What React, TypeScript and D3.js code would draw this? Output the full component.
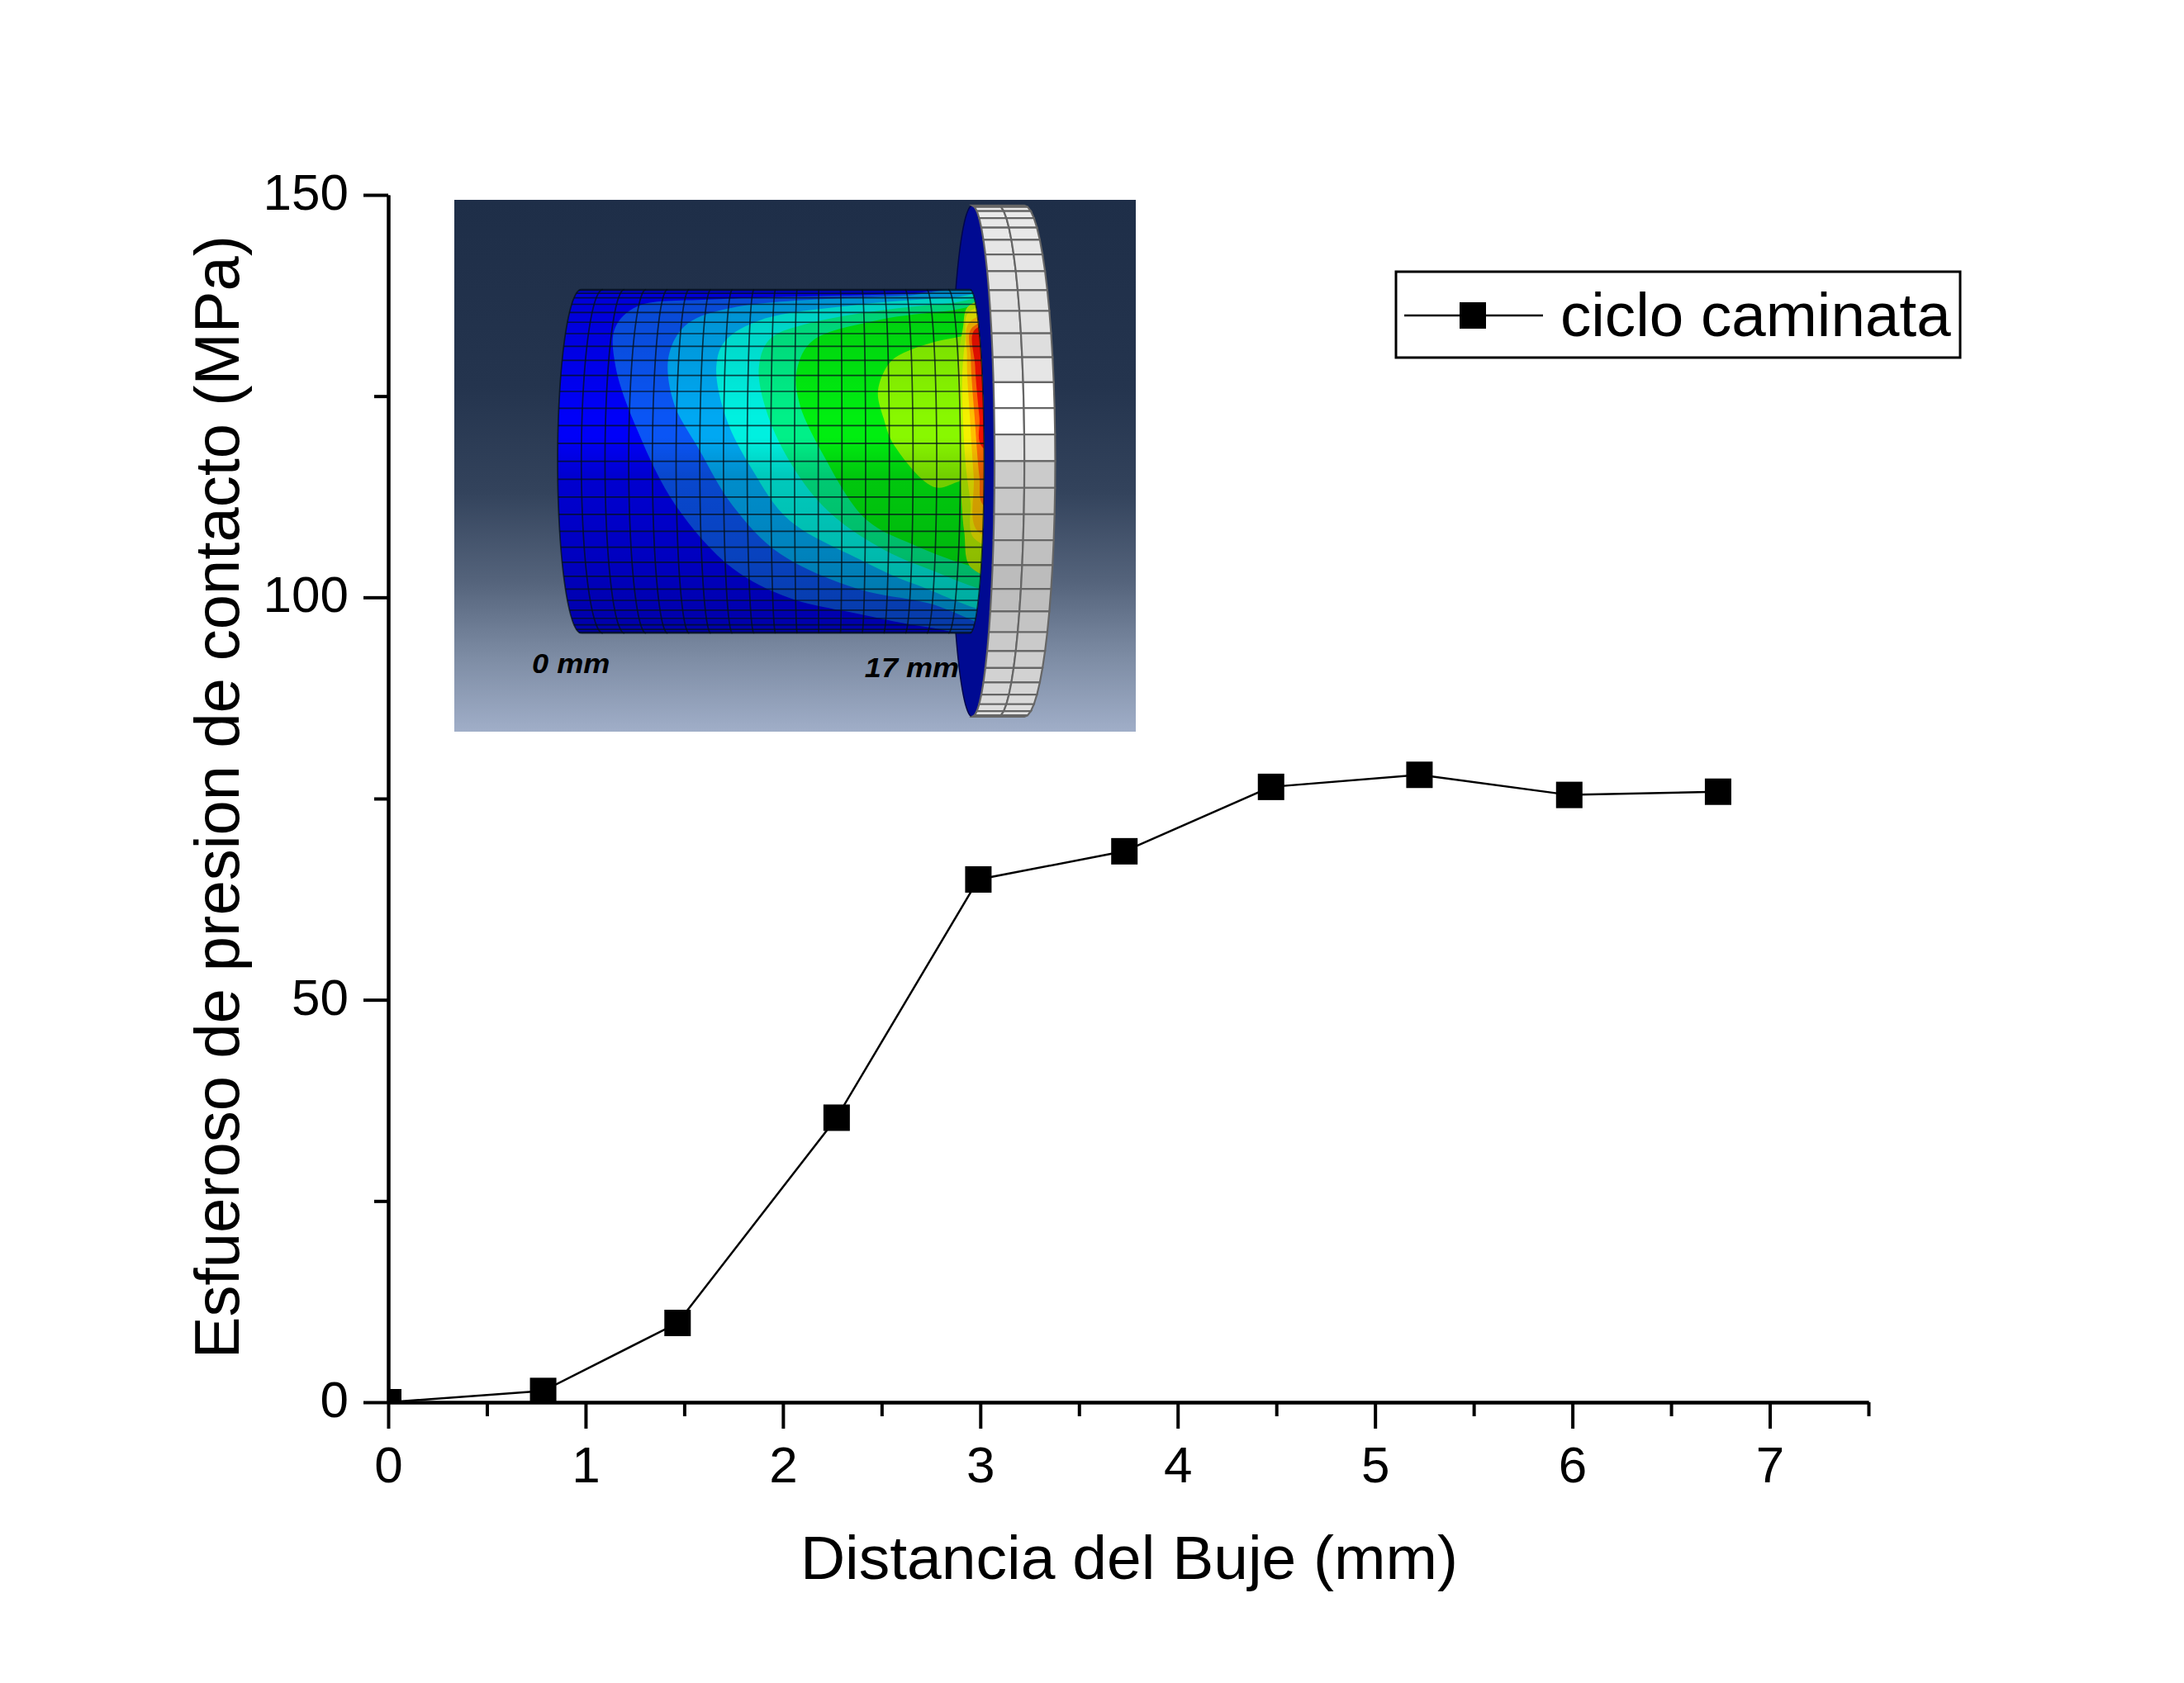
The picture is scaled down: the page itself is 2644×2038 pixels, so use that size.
import { useEffect, useRef } from 'react'
import * as d3 from 'd3'

const distance = [0, 0.785, 1.466, 2.272, 2.99, 3.73, 4.473, 5.225, 5.984, 6.738]
const stress = [0, 1.4, 9.85, 35.35, 64.95, 68.45, 76.45, 77.95, 75.45, 75.85]

const xMajor = [0, 1, 2, 3, 4, 5, 6, 7]
const xMinor = [0.5, 1.5, 2.5, 3.5, 4.5, 5.5, 6.5, 7.5]
const yMajor = [0, 50, 100, 150]
const yMinor = [25, 75, 125]

const xTitle = 'Distancia del Buje (mm)'
const yTitle = 'Esfueroso de presion de contacto (MPa)'
const seriesName = 'ciclo caminata'

// FEM picture in the inset: contour outlines, in the inset's own units, outermost first
const bandBlue = [[1250, 296], [1000, 305], [600, 320], [440, 338], [392, 395], [392, 500], [440, 680], [520, 880], [640, 1050], [760, 1130], [906, 1173], [1057, 1210], [1250, 1232]]
const bandSky = [[1250, 300], [1000, 310], [640, 342], [545, 385], [505, 470], [515, 600], [570, 730], [640, 880], [740, 1010], [906, 1106], [1051, 1143], [1250, 1210]]
const bandCyan = [[1250, 305], [1100, 315], [900, 335], [700, 375], [625, 430], [605, 500], [625, 640], [680, 780], [760, 920], [906, 1024], [1022, 1091], [1250, 1165]]
const bandMint = [[1250, 312], [1100, 330], [950, 350], [800, 385], [720, 425], [695, 500], [710, 620], [760, 760], [830, 880], [920, 970], [1040, 1045], [1250, 1110]]
const bandGreen = [[1250, 330], [1100, 350], [950, 375], [810, 430], [775, 510], [780, 600], [830, 740], [923, 919], [1022, 986], [1150, 1046], [1250, 1070]]
const bandLime = [[1250, 420], [1098, 426], [1000, 465], [970, 493], [946, 568], [958, 643], [981, 717], [1068, 830], [1121, 812], [1250, 770]]
const bandOlive = [[1250, 325], [1140, 335], [1125, 400], [1115, 500], [1118, 640], [1120, 800], [1128, 950], [1145, 1050], [1250, 1080]]
const bandYellow = [[1250, 340], [1140, 352], [1130, 430], [1124, 520], [1125, 640], [1132, 780], [1141, 868], [1150, 969], [1250, 1000]]
const bandAmber = [[1250, 355], [1142, 378], [1134, 480], [1140, 640], [1148, 800], [1158, 950], [1250, 970]]
const bandOrange = [[1250, 370], [1146, 395], [1142, 480], [1150, 640], [1160, 800], [1170, 880], [1250, 900]]
const bandRed = [[1250, 385], [1152, 400], [1151, 500], [1160, 640], [1166, 720], [1250, 760]]

const contourBands: [number[][], string][] = [
  [bandBlue, '#0a55f5'],
  [bandSky, '#00a8f2'],
  [bandCyan, '#00f0e0'],
  [bandMint, '#00f088'],
  [bandGreen, '#00ee10'],
  [bandLime, '#88f800'],
  [bandOlive, '#b8f400'],
  [bandYellow, '#f4f000'],
  [bandAmber, '#ffc000'],
  [bandOrange, '#ff6c00'],
  [bandRed, '#f01000'],
]

// flat shade of each flange cell, top row first
const rimShades = [
  '#f0f0f0', '#ececec', '#eaeaea', '#e8e8e8', '#e8e8e8', '#e6e6e6', '#e6e6e6', '#e4e4e4', '#e2e2e2', '#e2e2e2',
  '#dedede', '#e6e6e6', '#ffffff', '#ffffff', '#e4e4e4', '#cbcbcb', '#c8c8c8', '#c4c4c4', '#c0c0c0', '#bcbcbc',
  '#bebebe', '#c4c4c4', '#cacaca', '#cecece', '#d2d2d2', '#d6d6d6', '#dadada', '#dedede', '#e2e2e2', '#e6e6e6',
]

export default function App() {
  const svgRef = useRef<SVGSVGElement>(null)

  useEffect(() => {
    if (!svgRef.current) return

    const width = 2644
    const height = 2038
    const font = '"Liberation Sans", Arial, sans-serif'

    const x = d3.scaleLinear().domain([0, 7.5]).range([470, 2262])
    const y = d3.scaleLinear().domain([0, 150]).range([1698, 236])

    const svg = d3.select(svgRef.current)
    svg.selectAll('*').remove()
    svg.attr('width', width).attr('height', height)

    const defs = svg.append('defs')

    svg.append('rect').attr('width', width).attr('height', height).attr('fill', '#fff')

    // inset
    const insetX = d3.scaleLinear().domain([52, 1490]).range([550, 1375])
    const insetY = d3.scaleLinear().domain([50, 1492]).range([242, 886])
    const sx = insetX(1) - insetX(0)
    const sy = insetY(1) - insetY(0)

    const bg = defs.append('linearGradient').attr('id', 'inset-bg').attr('x1', 0).attr('x2', 0).attr('y1', 0).attr('y2', 1)
    const bgStops: [number, string][] = [[0, '#1e2e48'], [0.35, '#24344e'], [0.55, '#33435c'], [0.72, '#55647c'], [0.86, '#7d8ca4'], [1, '#a0aec8']]
    bgStops.forEach(([o, c]) => bg.append('stop').attr('offset', o).attr('stop-color', c))

    const shade = defs.append('linearGradient').attr('id', 'cyl-shade').attr('x1', 0).attr('x2', 0).attr('y1', 0).attr('y2', 1)
    const shadeStops: [number, number][] = [[0, 0.14], [0.135, 0.1], [0.3, 0.03], [0.37, 0], [0.43, 0], [0.54, 0.16], [0.76, 0.22], [1, 0.32]]
    shadeStops.forEach(([o, a]) => shade.append('stop').attr('offset', o).attr('stop-color', '#000').attr('stop-opacity', a))

    const inset = svg.append('g').attr('transform', `translate(${insetX(0)},${insetY(0)}) scale(${sx},${sy})`)

    inset.append('rect').attr('x', 52).attr('y', 50).attr('width', 1438).attr('height', 1442).attr('fill', 'url(#inset-bg)')

    inset.append('text').attr('transform', 'translate(216,1332) scale(0.85,1)').text('0 mm')
      .attr('font-family', font).attr('font-size', 74).attr('font-weight', 'bold').attr('font-style', 'italic')
    inset.append('text').attr('transform', 'translate(918,1345) scale(0.85,1)').text('17 mm')
      .attr('font-family', font).attr('font-size', 74).attr('font-weight', 'bold').attr('font-style', 'italic')

    const toPath = d3.line()
    const noScale = 'non-scaling-stroke'
    const rad = (a: number) => (a * Math.PI) / 180

    // flange
    const flangeCy = 758.5
    const flangeR = 693
    const flangePt = (top: number, mid: number, a: number): [number, number] => [
      top + (mid - top) * Math.cos(rad(a)),
      flangeCy + flangeR * Math.sin(rad(a)),
    ]
    const arc = (top: number, mid: number) => d3.range(-90, 90.1, 3).map(a => flangePt(top, mid, a))

    inset.append('path')
      .attr('d', toPath([...arc(1145, 1098), ...arc(1145, 1192).reverse()]) + 'Z')
      .attr('fill', '#000a92').attr('stroke', '#00064a').attr('stroke-width', 1.5).attr('vector-effect', noScale)

    const rimCols = [[1145, 1192], [1200, 1255], [1255, 1320]]
    rimShades.forEach((tone, r) => {
      const a0 = -90 + (r * 180) / rimShades.length
      const a1 = a0 + 180 / rimShades.length
      d3.range(rimCols.length - 1).forEach(c => {
        const [t0, m0] = rimCols[c]
        const [t1, m1] = rimCols[c + 1]
        inset.append('path')
          .attr('d', toPath([flangePt(t0, m0, a0), flangePt(t1, m1, a0), flangePt(t1, m1, a1), flangePt(t0, m0, a1)]) + 'Z')
          .attr('fill', tone)
          .attr('stroke', '#666').attr('stroke-width', 2.2).attr('vector-effect', noScale)
      })
    })

    // cylinder
    const cylCy = 759
    const cylR = 466
    const cylCols = 18
    const cylRows = 30
    const cylPt = (i: number, a: number): [number, number] => {
      const top = 320 + (i * 820) / cylCols
      const mid = 270 + (i * 900) / cylCols
      return [top + (mid - top) * Math.cos(rad(a)), cylCy + cylR * Math.sin(rad(a))]
    }
    const cylEdge = (i: number) => d3.range(-90, 90.1, 3).map(a => cylPt(i, a))
    const outline = toPath([...cylEdge(0), ...cylEdge(cylCols).reverse()]) + 'Z'

    defs.append('clipPath').attr('id', 'cyl-clip').append('path').attr('d', outline)

    const cyl = inset.append('g').attr('clip-path', 'url(#cyl-clip)')
    cyl.append('path').attr('d', outline).attr('fill', '#0000f8')
    const bandPath = d3.line().curve(d3.curveCatmullRomClosed)
    contourBands.forEach(([pts, color]) => {
      cyl.append('path').attr('d', bandPath(pts as [number, number][])).attr('fill', color)
    })
    cyl.append('rect').attr('x', 260).attr('y', 293).attr('width', 920).attr('height', 932).attr('fill', 'url(#cyl-shade)')

    d3.range(cylCols + 1).forEach(i => {
      inset.append('path').attr('d', toPath(cylEdge(i))).attr('fill', 'none')
        .attr('stroke', '#04101a').attr('stroke-opacity', 0.75).attr('stroke-width', 1.7).attr('vector-effect', noScale)
    })
    d3.range(cylRows + 1).forEach(r => {
      const a = -90 + (r * 180) / cylRows
      inset.append('path').attr('d', toPath([cylPt(0, a), cylPt(cylCols, a)])).attr('fill', 'none')
        .attr('stroke', '#04101a').attr('stroke-opacity', 0.75).attr('stroke-width', 1.7).attr('vector-effect', noScale)
    })

    // axes
    const styleAxis = (g: d3.Selection<SVGGElement, unknown, null, undefined>) => {
      g.selectAll('path').attr('stroke', '#000').attr('stroke-width', 4)
      g.selectAll('line').attr('stroke', '#000').attr('stroke-width', 4)
      g.selectAll('text').attr('font-family', font).attr('font-size', 62).attr('fill', '#000')
    }

    const xAxis = svg.append('g').attr('transform', `translate(0,${y(0)})`)
      .call(d3.axisBottom(x).tickValues(xMajor).tickSize(32).tickSizeOuter(0).tickPadding(0).tickFormat(d3.format('d')) as any)
    styleAxis(xAxis)
    xAxis.selectAll('text').attr('y', 97).attr('dy', 0)

    const xAxisMinor = svg.append('g').attr('transform', `translate(0,${y(0)})`)
      .call(d3.axisBottom(x).tickValues(xMinor).tickSize(17).tickSizeOuter(0).tickFormat(() => '') as any)
    styleAxis(xAxisMinor)

    const yAxis = svg.append('g').attr('transform', `translate(${x(0)},0)`)
      .call(d3.axisLeft(y).tickValues(yMajor).tickSize(30).tickSizeOuter(0).tickFormat(d3.format('d')) as any)
    styleAxis(yAxis)
    yAxis.selectAll('text').attr('x', -48).attr('dy', 17.5)

    const yAxisMinor = svg.append('g').attr('transform', `translate(${x(0)},0)`)
      .call(d3.axisLeft(y).tickValues(yMinor).tickSize(17).tickSizeOuter(0).tickFormat(() => '') as any)
    styleAxis(yAxisMinor)

    svg.append('text').attr('x', 1367).attr('y', 1912).attr('text-anchor', 'middle')
      .attr('font-family', font).attr('font-size', 75).text(xTitle)
    svg.append('text').attr('transform', 'translate(289,965) rotate(-90)').attr('text-anchor', 'middle')
      .attr('font-family', font).attr('font-size', 76).text(yTitle)

    // series, clipped to the plot area like the original
    defs.append('clipPath').attr('id', 'plot-area').append('rect')
      .attr('x', x(0)).attr('y', y(150)).attr('width', x(7.5) - x(0)).attr('height', y(0) - y(150))

    const markerSize = 32
    const line = d3.line<number>().x((_, i) => x(distance[i])).y(d => y(d))
    const series = svg.append('g').attr('clip-path', 'url(#plot-area)')
    series.append('path').datum(stress).attr('d', line).attr('fill', 'none').attr('stroke', '#000').attr('stroke-width', 2.5)
    series.selectAll('rect').data(stress).join('rect')
      .attr('x', (_, i) => x(distance[i]) - markerSize / 2)
      .attr('y', d => y(d) - markerSize / 2)
      .attr('width', markerSize).attr('height', markerSize).attr('fill', '#000')

    // legend
    const legend = svg.append('g').attr('transform', 'translate(1690,329)')
    legend.append('rect').attr('width', 683).attr('height', 104).attr('fill', '#fff').attr('stroke', '#000').attr('stroke-width', 3)
    legend.append('line').attr('x1', 10).attr('x2', 178).attr('y1', 53).attr('y2', 53).attr('stroke', '#000').attr('stroke-width', 2.5)
    legend.append('rect').attr('x', 77).attr('y', 37).attr('width', markerSize).attr('height', markerSize).attr('fill', '#000')
    legend.append('text').attr('x', 199).attr('y', 78).attr('font-family', font).attr('font-size', 74.6).text(seriesName)
  }, [])

  return <svg ref={svgRef} style={{ position: 'absolute', left: 0, top: 0, display: 'block' }} />
}
